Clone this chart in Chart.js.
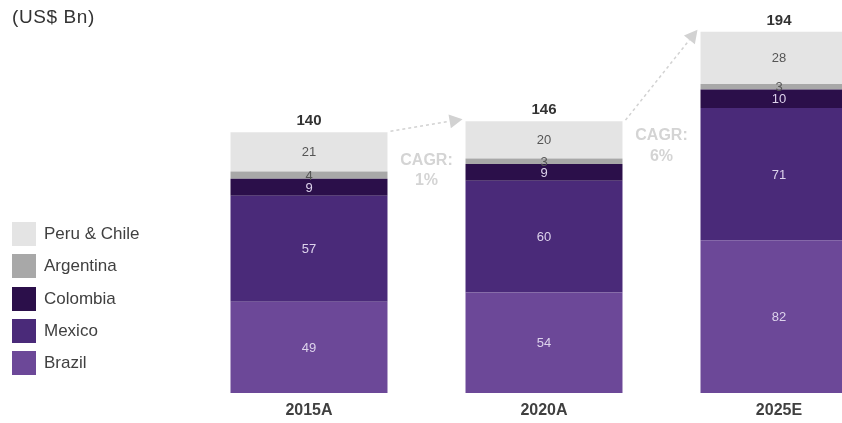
<!DOCTYPE html>
<html>
<head>
<meta charset="utf-8">
<script src="https://cdn.jsdelivr.net/npm/chart.js@4.4.1/dist/chart.umd.min.js"></script>
<style>
  html,body{margin:0;padding:0;background:#fff;overflow:hidden;width:842px;height:423px;}
  #wrap{position:relative;width:842px;height:423px;overflow:hidden;font-family:"Liberation Sans",Arial,sans-serif;}
  #chart{position:absolute;left:0;top:0;}
  .unit{position:absolute;left:12px;top:6px;font-size:19px;letter-spacing:0.6px;color:#333;}
  #legend{position:absolute;left:12px;top:222px;}
  .lg{display:flex;align-items:center;height:24px;margin-bottom:8.25px;font-size:17px;color:#404040;}
  .lg span{display:inline-block;width:24px;height:24px;margin-right:8px;}
</style>
</head>
<body>
<div id="wrap">
  <canvas id="chart" width="900" height="432"></canvas>
  <div class="unit">(US$ Bn)</div>
  <div id="legend"></div>
</div>
<script>
const years = ['2015A','2020A','2025E'];
const brazil = [49,54,82];
const mexico = [57,60,71];
const colombia = [9,9,10];
const argentina = [4,3,3];
const peruChile = [21,20,28];
const cagr = ['1%','6%'];

const series = [
  {label:'Brazil',data:brazil,color:'#6C4898',text:'#ddd3ec'},
  {label:'Mexico',data:mexico,color:'#4A2A79',text:'#ddd3ec'},
  {label:'Colombia',data:colombia,color:'#2B0F4A',text:'#ddd3ec'},
  {label:'Argentina',data:argentina,color:'#A8A8A8',text:'#555'},
  {label:'Peru & Chile',data:peruChile,color:'#E4E4E4',text:'#555'},
];

// legend, top to bottom = reverse stack order
document.getElementById('legend').innerHTML = series.slice().reverse()
  .map(s=>`<div class="lg"><span style="background:${s.color}"></span>${s.label}</div>`).join('');

const FONT = '"Liberation Sans", Arial, sans-serif';

const labelPlugin = {
  id:'labels',
  afterDatasetsDraw(chart){
    const ctx = chart.ctx, y = chart.scales.y;
    ctx.save();
    ctx.textAlign = 'center'; ctx.textBaseline = 'middle';
    ctx.font = '13px ' + FONT;
    chart.data.datasets.forEach((ds,i)=>{
      chart.getDatasetMeta(i).data.forEach((bar,j)=>{
        const p = bar.getCenterPoint();
        ctx.fillStyle = series[i].text;
        ctx.fillText(ds.data[j], p.x, p.y + 1);
      });
    });
    // totals
    const tops = chart.getDatasetMeta(chart.data.datasets.length-1).data;
    ctx.font = 'bold 15px ' + FONT;
    ctx.fillStyle = '#333';
    tops.forEach((bar,j)=>{
      const total = series.reduce((s,d)=>s+d.data[j],0);
      ctx.fillText(total, bar.x, bar.y - 11);
    });
    // CAGR arrows + text
    const txtPos = [[125,114],[138,127]];
    for(let i=0;i<tops.length-1;i++){
      const a = tops[i], b = tops[i+1];
      const x0 = a.x + a.width/2 + 3, y0 = a.y - 1;
      const x1 = b.x - b.width/2 - 3, y1 = b.y - 2;
      const ang = Math.atan2(y1-y0, x1-x0), hl = 13, hw = 7;
      const bx = x1 - hl*Math.cos(ang), by = y1 - hl*Math.sin(ang);
      ctx.strokeStyle = '#d2d2d2'; ctx.lineWidth = 1.5; ctx.setLineDash([3,3]);
      ctx.beginPath(); ctx.moveTo(x0,y0); ctx.lineTo(bx,by); ctx.stroke();
      ctx.setLineDash([]);
      ctx.fillStyle = '#d2d2d2';
      ctx.beginPath();
      ctx.moveTo(x1,y1);
      ctx.lineTo(bx + hw*Math.sin(ang), by - hw*Math.cos(ang));
      ctx.lineTo(bx - hw*Math.sin(ang), by + hw*Math.cos(ang));
      ctx.closePath(); ctx.fill();
      const cx = (a.x + a.width/2 + b.x - b.width/2)/2;
      ctx.font = 'bold 16px ' + FONT;
      ctx.fillStyle = '#d4d4d4';
      ctx.fillText('CAGR:', cx, y.getPixelForValue(txtPos[i][0]));
      ctx.fillText(cagr[i], cx, y.getPixelForValue(txtPos[i][1]));
    }
    ctx.restore();
  }
};

new Chart(document.getElementById('chart'),{
  type:'bar',
  data:{labels:years,datasets:series.map(s=>({label:s.label,data:s.data,backgroundColor:s.color,borderWidth:0,barPercentage:0.668,categoryPercentage:1}))},
  options:{
    responsive:false,animation:false,
    layout:{padding:{left:191.5,right:3.5,top:20.6,bottom:3.8}},
    plugins:{legend:{display:false},tooltip:{enabled:false}},
    scales:{
      x:{stacked:true,grid:{display:false,drawTicks:false},border:{display:false},
         ticks:{padding:8,color:'#404040',font:{family:FONT,size:16,weight:'bold'}}},
      y:{stacked:true,display:false,min:0,max:200}
    }
  },
  plugins:[labelPlugin]
});
</script>
</body>
</html>
